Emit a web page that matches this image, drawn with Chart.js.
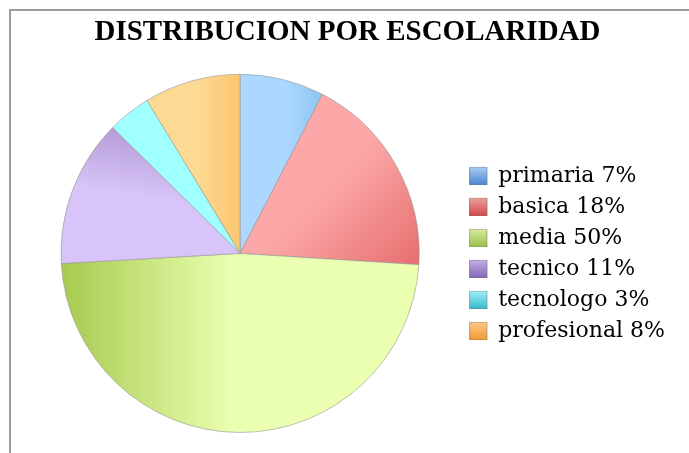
<!DOCTYPE html>
<html>
<head>
<meta charset="utf-8">
<script src="https://cdn.jsdelivr.net/npm/chart.js@4.4.1/dist/chart.umd.min.js"></script>
<style>
  html, body { margin: 0; padding: 0; background: #fff; overflow: hidden; }
  #frame { position: absolute; left: 9px; top: 9px; width: 720px; height: 480px;
           border-top: 2px solid #9b9b9b; border-left: 2px solid #9b9b9b; }
  #wrap { position: absolute; left: 0; top: 0; width: 689px; height: 453px; }
</style>
</head>
<body>
<div id="frame"></div>
<div id="wrap"><canvas id="chart"></canvas></div>
<script>
// categories and legend text as printed on the chart
const categories = ['primaria', 'basica', 'media', 'tecnico', 'tecnologo', 'profesional'];
const legendText = ['primaria 7%', 'basica 18%', 'media 50%', 'tecnico 11%', 'tecnologo 3%', 'profesional 8%'];
// slice sizes (percent)
const shares = [7.6, 18.4, 48.1, 13.3, 3.9, 8.7];

// slice shading: light / dark tone per slice
const lightColors = ['#acd8ff', '#fca8a8', '#eaffb0', '#d8c4f8', '#a0ffff', '#fdda94'];
const darkColors  = ['#88bfee', '#e66c6c', '#a6ca4e', '#b49cd8', '#a0ffff', '#fbc670'];
// legend boxes: top / bottom tone
const boxTop = ['#a9cdf3', '#f0a0a0', '#d8eca0', '#c4b0e4', '#a0eef6', '#fcc888'];
const boxBottom = ['#4a86d0', '#d04848', '#98c048', '#8466b8', '#36bcd0', '#f49a30'];

function sliceFill(context) {
  const i = context.dataIndex;
  const chart = context.chart;
  const area = chart.chartArea;
  if (!area || i === undefined) return lightColors[i] || '#ccc';
  const c = chart.ctx;
  const cx = (area.left + area.right) / 2;
  const cy = (area.top + area.bottom) / 2;
  const r = Math.min(area.right - area.left, area.bottom - area.top) / 2;
  let g;
  if (i === 0) g = c.createLinearGradient(cx + 0.25 * r, cy, cx + 0.5 * r, cy);
  else if (i === 1) g = c.createLinearGradient(cx + 0.5 * r, cy - 0.4 * r, cx + r, cy + 0.1 * r);
  else if (i === 2) g = c.createLinearGradient(cx - 0.05 * r, cy, cx - r, cy);
  else if (i === 3) g = c.createLinearGradient(cx - 0.75 * r, cy - 0.35 * r, cx - 0.7 * r, cy - 0.7 * r);
  else if (i === 4) return lightColors[4];
  else g = c.createLinearGradient(cx - 0.25 * r, cy, cx, cy);
  g.addColorStop(0, lightColors[i]);
  g.addColorStop(1, darkColors[i]);
  return g;
}

const legendBoxes = {
  id: 'legendBoxes',
  afterDraw(chart) {
    const lg = chart.legend;
    if (!lg || !lg.legendHitBoxes) return;
    const c = chart.ctx;
    const bw = lg.options.labels.boxWidth;
    const bh = lg.options.labels.boxHeight;
    lg.legendHitBoxes.forEach((hb, i) => {
      const x = hb.left;
      const y = hb.top + hb.height / 2 - bh / 2;
      const g = c.createLinearGradient(0, y, 0, y + bh);
      g.addColorStop(0, boxTop[i]);
      g.addColorStop(1, boxBottom[i]);
      c.save();
      c.fillStyle = g;
      c.fillRect(x, y, bw, bh);
      c.strokeStyle = 'rgba(120,120,120,0.35)';
      c.lineWidth = 1;
      c.strokeRect(x + 0.5, y + 0.5, bw - 1, bh - 1);
      c.restore();
    });
  }
};

new Chart(document.getElementById('chart'), {
  type: 'pie',
  data: {
    labels: categories,
    datasets: [{
      data: shares,
      backgroundColor: sliceFill,
      borderColor: 'rgba(150,150,150,0.6)',
      borderWidth: 1
    }]
  },
  options: {
    responsive: true,
    maintainAspectRatio: false,
    animation: false,
    layout: { padding: { top: 12, bottom: 20, left: 20, right: 14 } },
    plugins: {
      title: {
        display: true,
        text: 'DISTRIBUCION POR ESCOLARIDAD',
        color: '#000',
        font: { family: 'Liberation Serif', size: 29, weight: 'bold' },
        padding: { top: 3, bottom: 24 }
      },
      legend: {
        position: 'right',
        fullSize: false,
        labels: {
          boxWidth: 18,
          boxHeight: 18,
          padding: 9,
          color: '#000',
          font: { family: 'DejaVu Serif', size: 22 },
          generateLabels: () => legendText.map((t, i) => ({
            text: t,
            fillStyle: boxBottom[i],
            strokeStyle: 'rgba(0,0,0,0)',
            lineWidth: 0,
            index: i,
            hidden: false
          }))
        }
      },
      tooltip: { enabled: false }
    }
  },
  plugins: [legendBoxes]
});
</script>
</body>
</html>
